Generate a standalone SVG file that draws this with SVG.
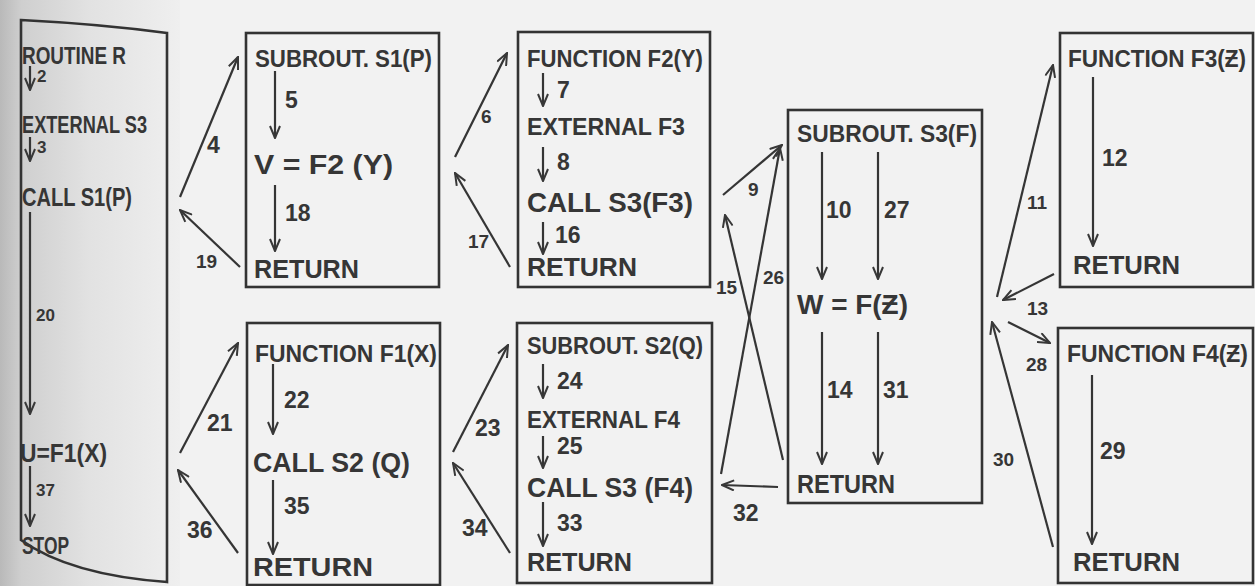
<svg xmlns="http://www.w3.org/2000/svg" width="1255" height="586" viewBox="0 0 1255 586">
<defs>
<linearGradient id="page" x1="0" y1="0" x2="1" y2="0">
<stop offset="0" stop-color="#b9b9b9"/>
<stop offset="0.12" stop-color="#cfcfcf"/>
<stop offset="0.5" stop-color="#e2e2e2"/>
<stop offset="1" stop-color="#efefef"/>
</linearGradient>
<marker id="ah" viewBox="0 0 14 12" refX="13" refY="6" markerWidth="14" markerHeight="12" markerUnits="userSpaceOnUse" orient="auto">
<path d="M1,1 L13,6 L1,11" fill="none" stroke="#383838" stroke-width="2"/>
</marker>
</defs>
<style>
.box{fill:none;stroke:#333;stroke-width:2.6}
.t{font-family:"Liberation Sans",Arial,sans-serif;fill:#363636;font-size:23px;font-weight:bold}
.m{font-size:25px}
.big{font-size:28px}
.n{font-family:"Liberation Sans",Arial,sans-serif;fill:#363636;font-size:23px;font-weight:bold}
.s{font-size:19px}
.xs{font-size:17px}
.c{stroke:#353535;stroke-width:2.2;fill:none;marker-end:url(#ah)}
</style>
<rect width="1255" height="586" fill="#f2f2f2"/>
<rect x="0" y="0" width="180" height="586" fill="url(#page)"/>

<g id="routineR">
<path class="box" d="M21,20 Q100,24 167,33 L167,582 Q70,575 21,540 Z"/>
<text class="t" x="22" y="64" textLength="104" lengthAdjust="spacingAndGlyphs">ROUTINE R</text>
<line class="c" x1="30" y1="66" x2="30" y2="90"/>
<text class="n xs" x="37" y="82">2</text>
<text class="t" x="22" y="133" textLength="125" lengthAdjust="spacingAndGlyphs">EXTERNAL S3</text>
<line class="c" x1="30" y1="137" x2="30" y2="161"/>
<text class="n xs" x="37" y="153">3</text>
<text class="t m" x="22" y="206" textLength="110" lengthAdjust="spacingAndGlyphs">CALL S1(P)</text>
<line class="c" x1="30" y1="212" x2="30" y2="414"/>
<text class="n xs" x="36" y="321">20</text>
<text class="t m" x="20" y="462" textLength="87" lengthAdjust="spacingAndGlyphs">U=F1(X)</text>
<line class="c" x1="30" y1="466" x2="30" y2="526"/>
<text class="n xs" x="36" y="496">37</text>
<text class="t" x="22" y="554" textLength="47" lengthAdjust="spacingAndGlyphs">STOP</text>
</g>

<g id="S1">
<rect class="box" x="246" y="33" width="193" height="254"/>
<text class="t" x="255" y="67" textLength="177" lengthAdjust="spacingAndGlyphs">SUBROUT. S1(P)</text>
<line class="c" x1="275" y1="71" x2="275" y2="138"/>
<text class="n" x="285" y="108">5</text>
<text class="t big" x="254" y="174" textLength="139" lengthAdjust="spacingAndGlyphs">V = F2 (Y)</text>
<line class="c" x1="275" y1="185" x2="275" y2="251"/>
<text class="n" x="285" y="221">18</text>
<text class="t m" x="254" y="278" textLength="105" lengthAdjust="spacingAndGlyphs">RETURN</text>
</g>

<g id="F1">
<rect class="box" x="247" y="323" width="193" height="262"/>
<text class="t" x="255" y="362" textLength="182" lengthAdjust="spacingAndGlyphs">FUNCTION F1(X)</text>
<line class="c" x1="273" y1="364" x2="273" y2="434"/>
<text class="n" x="284" y="408">22</text>
<text class="t big" x="253" y="472" textLength="157" lengthAdjust="spacingAndGlyphs">CALL S2 (Q)</text>
<line class="c" x1="273" y1="480" x2="273" y2="554"/>
<text class="n" x="284" y="514">35</text>
<text class="t m" x="253" y="576" textLength="120" lengthAdjust="spacingAndGlyphs">RETURN</text>
</g>

<g id="F2">
<rect class="box" x="518" y="32" width="192" height="255"/>
<text class="t" x="527" y="67" textLength="176" lengthAdjust="spacingAndGlyphs">FUNCTION F2(Y)</text>
<line class="c" x1="543" y1="73" x2="543" y2="106"/>
<text class="n" x="557" y="98">7</text>
<text class="t" x="527" y="135" textLength="158" lengthAdjust="spacingAndGlyphs">EXTERNAL F3</text>
<line class="c" x1="543" y1="147" x2="543" y2="181"/>
<text class="n" x="557" y="170">8</text>
<text class="t big" x="527" y="212" textLength="166" lengthAdjust="spacingAndGlyphs">CALL S3(F3)</text>
<line class="c" x1="543" y1="222" x2="543" y2="254"/>
<text class="n" x="555" y="243">16</text>
<text class="t m" x="527" y="276" textLength="110" lengthAdjust="spacingAndGlyphs">RETURN</text>
</g>

<g id="S2">
<rect class="box" x="517" y="323" width="195" height="260"/>
<text class="t" x="527" y="354" textLength="176" lengthAdjust="spacingAndGlyphs">SUBROUT. S2(Q)</text>
<line class="c" x1="543" y1="364" x2="543" y2="398"/>
<text class="n" x="557" y="389">24</text>
<text class="t" x="527" y="428" textLength="153" lengthAdjust="spacingAndGlyphs">EXTERNAL F4</text>
<line class="c" x1="543" y1="436" x2="543" y2="468"/>
<text class="n" x="557" y="454">25</text>
<text class="t big" x="527" y="497" textLength="166" lengthAdjust="spacingAndGlyphs">CALL S3 (F4)</text>
<line class="c" x1="543" y1="502" x2="543" y2="546"/>
<text class="n" x="557" y="531">33</text>
<text class="t m" x="527" y="571" textLength="105" lengthAdjust="spacingAndGlyphs">RETURN</text>
</g>

<g id="S3">
<rect class="box" x="788" y="110" width="194" height="393"/>
<text class="t" x="797" y="142" textLength="180" lengthAdjust="spacingAndGlyphs">SUBROUT. S3(F)</text>
<line class="c" x1="822" y1="152" x2="822" y2="279"/>
<text class="n" x="826" y="218">10</text>
<line class="c" x1="878" y1="152" x2="878" y2="279"/>
<text class="n" x="884" y="218">27</text>
<text class="t big" x="797" y="314" textLength="111" lengthAdjust="spacingAndGlyphs">W = F(Ƶ)</text>
<line class="c" x1="822" y1="332" x2="822" y2="464"/>
<text class="n" x="827" y="398">14</text>
<line class="c" x1="878" y1="332" x2="878" y2="464"/>
<text class="n" x="883" y="398">31</text>
<text class="t m" x="797" y="493" textLength="98" lengthAdjust="spacingAndGlyphs">RETURN</text>
</g>

<g id="F3">
<rect class="box" x="1060" y="33" width="193" height="254"/>
<text class="t" x="1068" y="67" textLength="178" lengthAdjust="spacingAndGlyphs">FUNCTION F3(Ƶ)</text>
<line class="c" x1="1093" y1="77" x2="1093" y2="246"/>
<text class="n" x="1102" y="166">12</text>
<text class="t m" x="1073" y="274" textLength="107" lengthAdjust="spacingAndGlyphs">RETURN</text>
</g>

<g id="F4">
<rect class="box" x="1058" y="328" width="195" height="255"/>
<text class="t" x="1067" y="362" textLength="181" lengthAdjust="spacingAndGlyphs">FUNCTION F4(Ƶ)</text>
<line class="c" x1="1092" y1="375" x2="1092" y2="544"/>
<text class="n" x="1100" y="459">29</text>
<text class="t m" x="1073" y="571" textLength="107" lengthAdjust="spacingAndGlyphs">RETURN</text>
</g>

<g id="connectors">
<line class="c" x1="180" y1="197" x2="238" y2="57"/>
<text class="n" x="207" y="153">4</text>
<line class="c" x1="240" y1="267" x2="180" y2="210"/>
<text class="n s" x="196" y="268">19</text>
<line class="c" x1="455" y1="157" x2="507" y2="53"/>
<text class="n s" x="481" y="123">6</text>
<line class="c" x1="510" y1="267" x2="455" y2="173"/>
<text class="n s" x="468" y="248">17</text>
<line class="c" x1="180" y1="453" x2="238" y2="343"/>
<text class="n" x="207" y="431">21</text>
<line class="c" x1="238" y1="553" x2="178" y2="470"/>
<text class="n" x="187" y="538">36</text>
<line class="c" x1="453" y1="452" x2="508" y2="345"/>
<text class="n" x="475" y="436">23</text>
<line class="c" x1="510" y1="553" x2="453" y2="463"/>
<text class="n" x="462" y="536">34</text>
<line class="c" x1="723" y1="195" x2="782" y2="145"/>
<text class="n s" x="748" y="196">9</text>
<line class="c" x1="721" y1="474" x2="780" y2="148"/>
<text class="n s" x="763" y="284">26</text>
<line class="c" x1="783" y1="460" x2="725" y2="215"/>
<text class="n s" x="716" y="294">15</text>
<line class="c" x1="778" y1="487" x2="722" y2="485"/>
<text class="n" x="733" y="521">32</text>
<line class="c" x1="997" y1="297" x2="1053" y2="65"/>
<text class="n s" x="1027" y="209">11</text>
<line class="c" x1="1054" y1="274" x2="1003" y2="300"/>
<text class="n s" x="1027" y="315">13</text>
<line class="c" x1="1008" y1="322" x2="1050" y2="343"/>
<text class="n s" x="1026" y="371">28</text>
<line class="c" x1="1053" y1="547" x2="992" y2="322"/>
<text class="n s" x="993" y="466">30</text>
</g>
</svg>
